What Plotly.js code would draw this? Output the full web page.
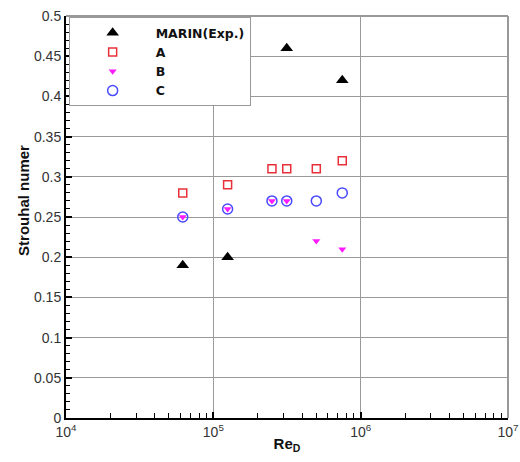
<!DOCTYPE html>
<html>
<head>
<meta charset="utf-8">
<script src="https://cdn.plot.ly/plotly-3.0.1.min.js"></script>
<style>html,body{margin:0;padding:0;background:#fff;}#chart{width:520px;height:462px;}</style>
</head>
<body>
<div id="chart"></div>
<script>
// Data
const marinRe = [6.2e4, 1.25e5, 3.15e5, 7.5e5];
const marinSt = [0.19, 0.20, 0.46, 0.42];
const caseRe = [6.2e4, 1.25e5, 2.5e5, 3.15e5, 5e5, 7.5e5];
const stA = [0.28, 0.29, 0.31, 0.31, 0.31, 0.32];
const stB = [0.25, 0.26, 0.27, 0.27, 0.22, 0.21];
const stC = [0.25, 0.26, 0.27, 0.27, 0.27, 0.28];
const xTickVals = [1e4, 1e5, 1e6, 1e7];
const xTickText = ['10<sup>4</sup>', '10<sup>5</sup>', '10<sup>6</sup>', '10<sup>7</sup>'];
const xDecades = [1e4, 1e5, 1e6];
const xMinorMult = [2, 3, 4, 5, 6, 7, 8, 9];
const yTickVals = [0, 0.05, 0.1, 0.15, 0.2, 0.25, 0.3, 0.35, 0.4, 0.45, 0.5];
const yTickText = ['0', '0.05', '0.1', '0.15', '0.2', '0.25', '0.3', '0.35', '0.4', '0.45', '0.5'];

const xMinorVals = [];
xDecades.forEach(d => xMinorMult.forEach(m => xMinorVals.push(d * m)));

const traces = [
  {x: marinRe, y: marinSt, name: 'MARIN(Exp.)', mode: 'markers', type: 'scatter',
   marker: {symbol: 'triangle-up', size: 11, color: '#000000'}},
  {x: caseRe, y: stA, name: 'A', mode: 'markers', type: 'scatter',
   marker: {symbol: 'square-open', size: 8, color: '#e8303a', line: {width: 1.5}}},
  {x: caseRe, y: stB, name: 'B', mode: 'markers', type: 'scatter',
   marker: {symbol: 'triangle-down', size: 7, color: '#ff1aff'}},
  {x: caseRe, y: stC, name: 'C', mode: 'markers', type: 'scatter',
   marker: {symbol: 'circle-open', size: 10, color: '#4a4aff', line: {width: 1.5}}}
];

const layout = {
  width: 520, height: 462,
  margin: {l: 66, r: 12, t: 16, b: 44},
  paper_bgcolor: '#ffffff', plot_bgcolor: '#ffffff',
  font: {family: 'Liberation Sans, Arial, sans-serif', size: 14, color: '#333333'},
  showlegend: true,
  legend: {x: 0.006, y: 0.997, xanchor: 'left', yanchor: 'top',
    bgcolor: '#ffffff', bordercolor: '#999999', borderwidth: 1,
    itemwidth: 76, tracegroupgap: 0,
    font: {family: 'DejaVu Sans, sans-serif', size: 12.5, color: '#111111', weight: 'bold'}},
  xaxis: {type: 'log', range: [4, 7], tickvals: xTickVals, ticktext: xTickText,
    showgrid: true, gridcolor: '#9a9a9a', gridwidth: 1,
    ticks: 'inside', ticklen: 6, tickwidth: 2, tickcolor: '#000',
    minor: {tickvals: xMinorVals, ticks: 'inside', ticklen: 5, tickwidth: 1, tickcolor: '#000', showgrid: false},
    showline: true, linecolor: '#000', linewidth: 2, mirror: false, zeroline: false,
    tickfont: {size: 14, color: '#333'},
    title: {text: '<b>Re<sub>D</sub></b>', font: {size: 15, color: '#111'}, standoff: 0}},
  yaxis: {range: [0, 0.5], tickvals: yTickVals, ticktext: yTickText,
    showgrid: true, gridcolor: '#9a9a9a', gridwidth: 1,
    ticks: 'inside', ticklen: 6, tickwidth: 2, tickcolor: '#000',
    minor: {dtick: 0.01, ticks: 'inside', ticklen: 4, tickwidth: 1, tickcolor: '#000', showgrid: false},
    showline: true, linecolor: '#000', linewidth: 2, zeroline: false,
    tickfont: {size: 14, color: '#333'}},
  annotations: [
    {text: '<b>Strouhal numer</b>', xref: 'paper', yref: 'paper', x: -0.095, y: 0.54,
     xanchor: 'center', yanchor: 'middle', textangle: -90, showarrow: false,
     font: {size: 15, color: '#111'}}
  ],
  shapes: [
    {type: 'line', xref: 'paper', yref: 'paper', x0: 0, x1: 1, y0: 1, y1: 1, line: {color: '#999', width: 2}},
    {type: 'line', xref: 'paper', yref: 'paper', x0: 1, x1: 1, y0: 0, y1: 1, line: {color: '#999', width: 2}}
  ]
};

Plotly.newPlot('chart', traces, layout, {displayModeBar: false, staticPlot: true});
</script>
</body>
</html>
